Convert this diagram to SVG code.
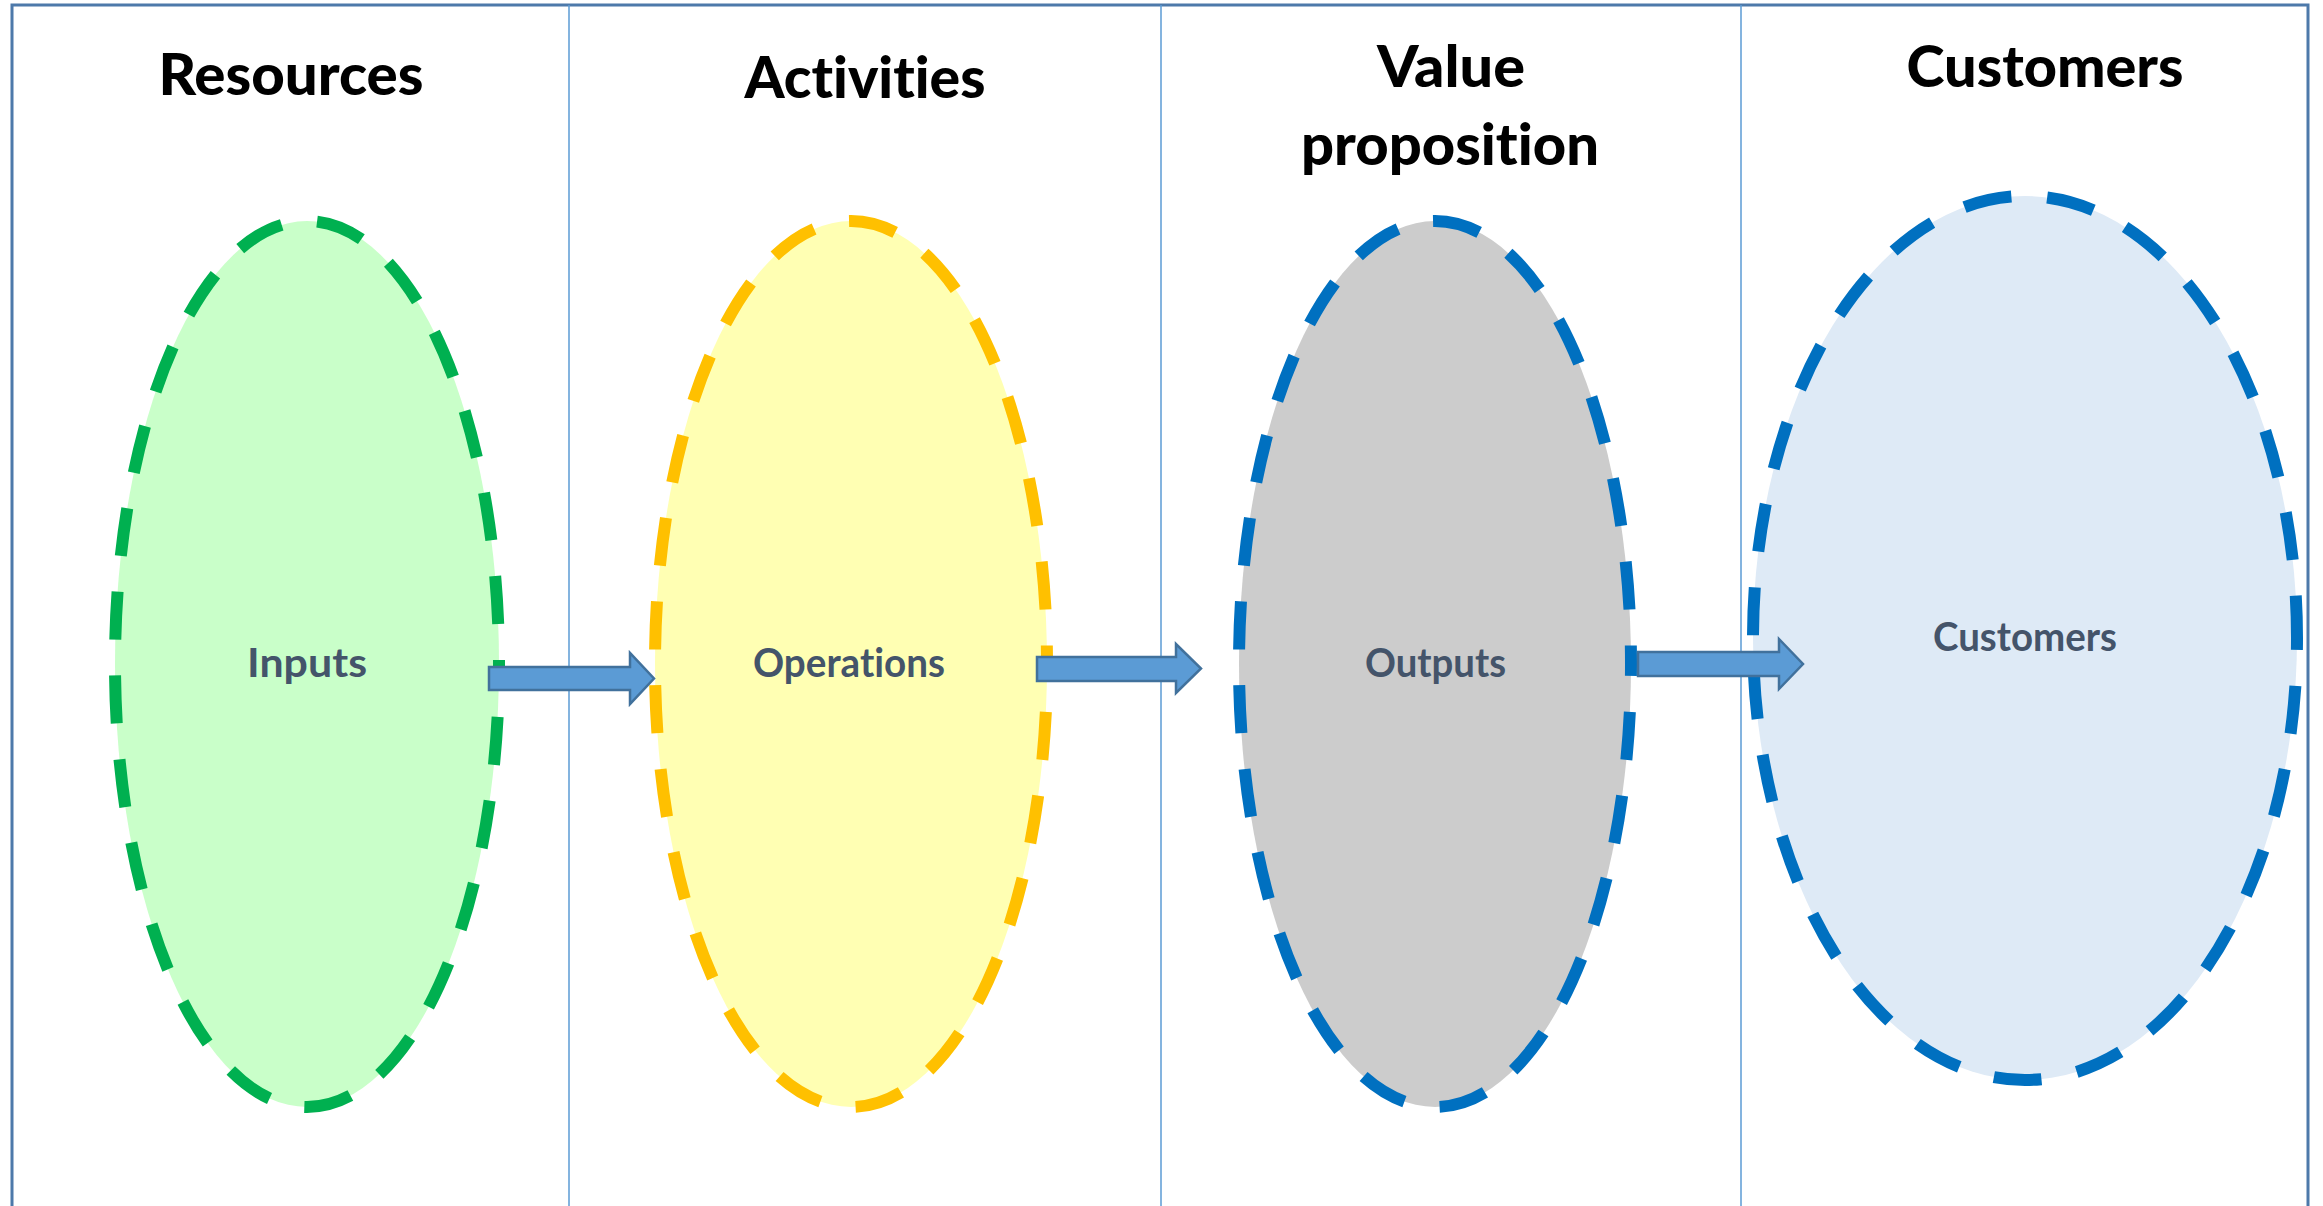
<svg xmlns="http://www.w3.org/2000/svg" width="2323" height="1206" viewBox="0 0 2323 1206">
<defs>
<style>
.frame{fill:none;stroke:#4d79aa;stroke-width:3}
.div{stroke:#5b9bd5;stroke-width:1.5}
.hdr{font-family:Lato,"Open Sans","Liberation Sans",sans-serif;font-weight:900;font-size:58px;fill:#000;text-anchor:middle;font-variant-ligatures:none;font-feature-settings:"liga" 0,"clig" 0,"dlig" 0,"calt" 0}
.lbl{font-family:Lato,"Open Sans","Liberation Sans",sans-serif;font-weight:bold;font-size:40px;fill:#44546a;text-anchor:middle;font-variant-ligatures:none;font-feature-settings:"liga" 0,"clig" 0,"dlig" 0,"calt" 0}
.ell{stroke-width:12;stroke-dasharray:48 36}
.arrow{fill:#5b9bd5;stroke:#41719c;stroke-width:2.5;stroke-linejoin:miter}
</style>
</defs>
<rect width="2323" height="1206" fill="#ffffff"/>
<g id="frame">
<path class="frame" d="M12,1206 V5 H2308 V1206"/>
<line class="div" x1="569" y1="5" x2="569" y2="1206"/>
<line class="div" x1="1161" y1="5" x2="1161" y2="1206"/>
<line class="div" x1="1741" y1="5" x2="1741" y2="1206"/>
</g>
<g id="headers">
<text class="hdr" x="291" y="95" textLength="265" lengthAdjust="spacingAndGlyphs">Resources</text>
<text class="hdr" x="865" y="98" textLength="241" lengthAdjust="spacingAndGlyphs">Activities</text>
<text class="hdr" x="1451" y="87" textLength="148" lengthAdjust="spacingAndGlyphs">Value</text>
<text class="hdr" x="1450" y="165" textLength="298" lengthAdjust="spacingAndGlyphs">proposition</text>
<text class="hdr" x="2045" y="87" textLength="277" lengthAdjust="spacingAndGlyphs">Customers</text>
</g>
<g id="node-inputs">
<ellipse class="ell" cx="307" cy="664" rx="192" ry="443" fill="#c9ffc9" stroke="#00b050" stroke-dashoffset="31"/>
<text class="lbl" x="307" y="677" textLength="120" lengthAdjust="spacingAndGlyphs">Inputs</text>
</g>
<g id="node-operations">
<ellipse class="ell" cx="851" cy="664" rx="196" ry="443" fill="#ffffb3" stroke="#ffc000" stroke-dashoffset="36"/>
<text class="lbl" x="849" y="677" textLength="192" lengthAdjust="spacingAndGlyphs">Operations</text>
</g>
<g id="node-outputs">
<ellipse class="ell" cx="1435" cy="664" rx="196" ry="443" fill="#cccccc" stroke="#0070c0" stroke-dashoffset="36"/>
<text class="lbl" x="1435.5" y="677" textLength="141" lengthAdjust="spacingAndGlyphs">Outputs</text>
</g>
<g id="node-customers">
<ellipse class="ell" cx="2025" cy="638" rx="272" ry="442" fill="#deeaf6" stroke="#0070c0" stroke-dashoffset="36"/>
<text class="lbl" x="2025" y="651" textLength="184" lengthAdjust="spacingAndGlyphs">Customers</text>
</g>
<g id="connectors">
<polygon class="arrow" points="489,667 630,667 630,653 654,678.5 630,704 630,690 489,690"/>
<polygon class="arrow" points="1037,657 1176,657 1176,644 1201,668.5 1176,693 1176,681 1037,681"/>
<polygon class="arrow" points="1638,652 1779,652 1779,639 1803,664 1779,689 1779,676 1638,676"/>
</g>
</svg>
